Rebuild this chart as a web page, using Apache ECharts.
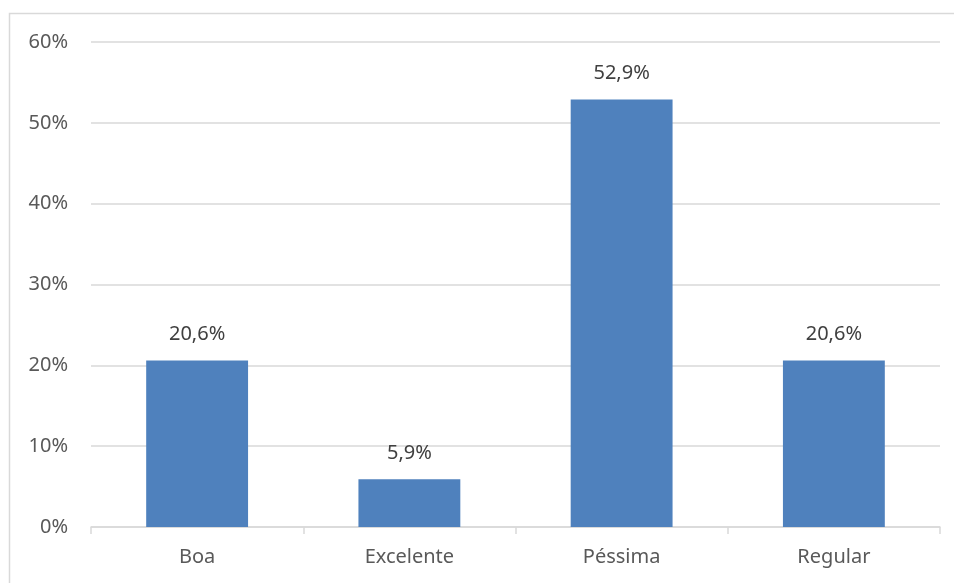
<!DOCTYPE html>
<html>
<head>
<meta charset="utf-8">
<script src="https://cdn.jsdelivr.net/npm/echarts@6/dist/echarts.min.js"></script>
<style>
  html, body { margin: 0; padding: 0; background: #fff; }
  #main { width: 954px; height: 583px; }
</style>
</head>
<body>
<div id="main"></div>
<script>
var categorias = ['Boa', 'Excelente', 'Péssima', 'Regular'];
var percentuais = [20.6, 5.9, 52.9, 20.6];
var yTicks = [0, 10, 20, 30, 40, 50, 60];

var chart = echarts.init(document.getElementById('main'));

function pct(v) {
    return v.toFixed(1).replace('.', ',') + '%';
}

var option = {
    animation: false,
    backgroundColor: '#fff',
    textStyle: { fontFamily: 'Noto Sans' },
    graphic: [{
        type: 'rect',
        shape: { x: 9.5, y: 13.5, width: 960, height: 600 },
        style: { fill: 'none', stroke: '#d9d9d9', lineWidth: 1.5 },
        silent: true
    }],
    grid: { left: 91, right: 14, top: 42, bottom: 56 },
    xAxis: {
        type: 'category',
        data: categorias,
        axisLine: { lineStyle: { color: '#d9d9d9', width: 1.5 } },
        axisTick: { show: true, length: 7, lineStyle: { color: '#d9d9d9', width: 1.5 } },
        axisLabel: { color: '#595959', fontSize: 20, margin: 20 }
    },
    yAxis: {
        type: 'value',
        min: yTicks[0],
        max: yTicks[yTicks.length - 1],
        interval: 10,
        axisLine: { show: false },
        axisTick: { show: false },
        splitLine: { lineStyle: { color: '#d9d9d9', width: 1.5 } },
        axisLabel: {
            color: '#595959', fontSize: 20, margin: 23,
            formatter: function (v) { return v + '%'; }
        }
    },
    series: [{
        type: 'bar',
        data: percentuais,
        barWidth: '48%',
        itemStyle: { color: '#4f81bd' },
        label: {
            show: true,
            position: 'top',
            distance: 16,
            color: '#404040',
            fontSize: 20,
            formatter: function (p) { return pct(p.value); }
        }
    }]
};

chart.setOption(option);
</script>
</body>
</html>
